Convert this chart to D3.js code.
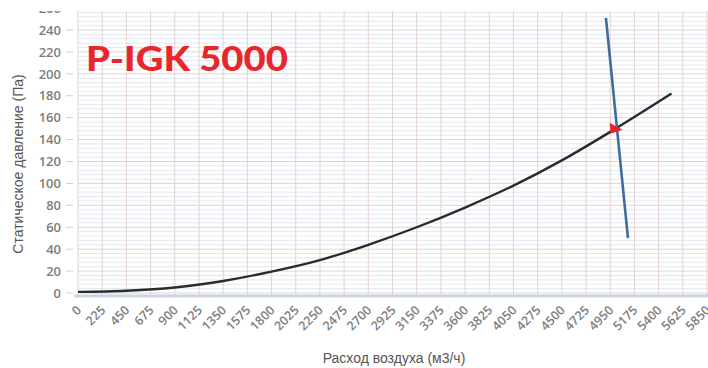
<!DOCTYPE html>
<html><head><meta charset="utf-8">
<script src="https://cdn.jsdelivr.net/npm/d3@7"></script>
<style>body{margin:0;background:#fff}svg{display:block}</style>
</head><body>
<svg id="c" width="708" height="368"></svg>
<script>
const title = "P-IGK 5000";
const xTitle = "Расход воздуха (м3/ч)";
const yTitle = "Статическое давление (Па)";
const xTicks = [0,225,450,675,900,1125,1350,1575,1800,2025,2250,2475,2700,2925,3150,3375,3600,3825,4050,4275,4500,4725,4950,5175,5400,5625,5850];
const yTicks = [0,20,40,60,80,100,120,140,160,180,200,220,240,260];
// fan curve
const curveQ = [0,450,900,1350,1800,2250,2700,3150,3600,4050,4500,5000,5520];
const curveP = [1,2,5,11,19.5,30,44,60,78,98,121,150,182];
// system line
const sysQ = [4910,5115];
const sysP = [251,50];
// operating point
const opQ = [5000];
const opP = [150];

const svg = d3.select("#c");
const x = d3.scaleLinear().domain([0,5850]).range([78,707]);
const y = d3.scaleLinear().domain([0,240]).range([293,30]);
const plotTop = 11, plotBottom = 296, plotLeft = 78, plotRight = 708;

svg.append("defs").append("clipPath").attr("id","clip")
  .append("rect").attr("x",0).attr("y",plotTop).attr("width",708).attr("height",368-plotTop);

const g = svg.append("g").attr("clip-path","url(#clip)");

// minor horizontal grid
const minor = d3.range(0,260,4).filter(v=>v%20!==0);
g.selectAll(".mh").data(minor).join("line")
  .attr("x1",plotLeft).attr("x2",plotRight).attr("y1",d=>y(d)).attr("y2",d=>y(d))
  .attr("stroke","#e2e8f1").attr("stroke-width",1);
// major horizontal grid
g.selectAll(".Mh").data(yTicks).join("line")
  .attr("x1",plotLeft).attr("x2",plotRight).attr("y1",d=>y(d)).attr("y2",d=>y(d))
  .attr("stroke","#e3d3d0").attr("stroke-width",1);
// vertical grid
g.selectAll(".v").data(xTicks).join("line")
  .attr("x1",d=>x(d)).attr("x2",d=>x(d)).attr("y1",plotTop).attr("y2",plotBottom)
  .attr("stroke","#e3d3d0").attr("stroke-width",1);

// y tick marks and labels
g.selectAll(".yt").data(yTicks).join("line")
  .attr("x1",66).attr("x2",73).attr("y1",d=>y(d)).attr("y2",d=>y(d))
  .attr("stroke","#cfcfcf");
g.selectAll(".yl").data(yTicks).join("text")
  .attr("x",61).attr("y",d=>y(d)).attr("dy","0.36em")
  .attr("text-anchor","end").attr("font-family","Open Sans, sans-serif").attr("font-weight",600)
  .attr("font-size",13).attr("fill","#7d7d7d").text(d=>d);

// bottom axis line
svg.append("line").attr("x1",plotLeft-4).attr("x2",plotRight).attr("y1",296).attr("y2",296)
  .attr("stroke","#c6d4e4").attr("stroke-width",3);

// x labels
svg.selectAll(".xl").data(xTicks).join("text")
  .attr("transform",d=>`translate(${x(d)+4},${311}) rotate(-45)`)
  .attr("text-anchor","end").attr("font-family","Open Sans, sans-serif").attr("font-weight",600)
  .attr("font-size",12.5).attr("fill","#7d7d7d").text(d=>d);

// curve
const curve = curveQ.map((q,i)=>[q,curveP[i]]);
g.append("path").datum(curve)
  .attr("d",d3.line().x(d=>x(d[0])).y(d=>y(d[1])).curve(d3.curveCatmullRom))
  .attr("fill","none").attr("stroke","#2b2b2b").attr("stroke-width",2.4);

// system line
const sys = sysQ.map((q,i)=>[q,sysP[i]]);
g.append("path").datum(sys)
  .attr("d",d3.line().x(d=>x(d[0])).y(d=>y(d[1])))
  .attr("fill","none").attr("stroke","#3f6c9c").attr("stroke-width",2.6);

// operating point marker
g.selectAll(".op").data(opQ).join("path")
  .attr("transform",(d,i)=>`translate(${x(d)},${y(opP[i])})`)
  .attr("d","M-6,-6 L7,1 L-5,5 Z").attr("fill","#e8232e");

// title
svg.append("text").attr("x",86).attr("y",71)
  .attr("font-family","Lato, sans-serif").attr("font-weight",900)
  .attr("font-size",35).attr("fill","#e8262c")
  .attr("textLength",202).attr("lengthAdjust","spacingAndGlyphs").text(title);

// axis titles
svg.append("text").attr("transform","translate(23,164) rotate(-90)")
  .attr("text-anchor","middle").attr("font-family","Liberation Sans, Arial, sans-serif")
  .attr("font-size",14).attr("fill","#555").text(yTitle);
svg.append("text").attr("x",394).attr("y",363)
  .attr("text-anchor","middle").attr("font-family","Liberation Sans, Arial, sans-serif")
  .attr("font-size",14).attr("fill","#555").text(xTitle);
</script>
</body></html>
